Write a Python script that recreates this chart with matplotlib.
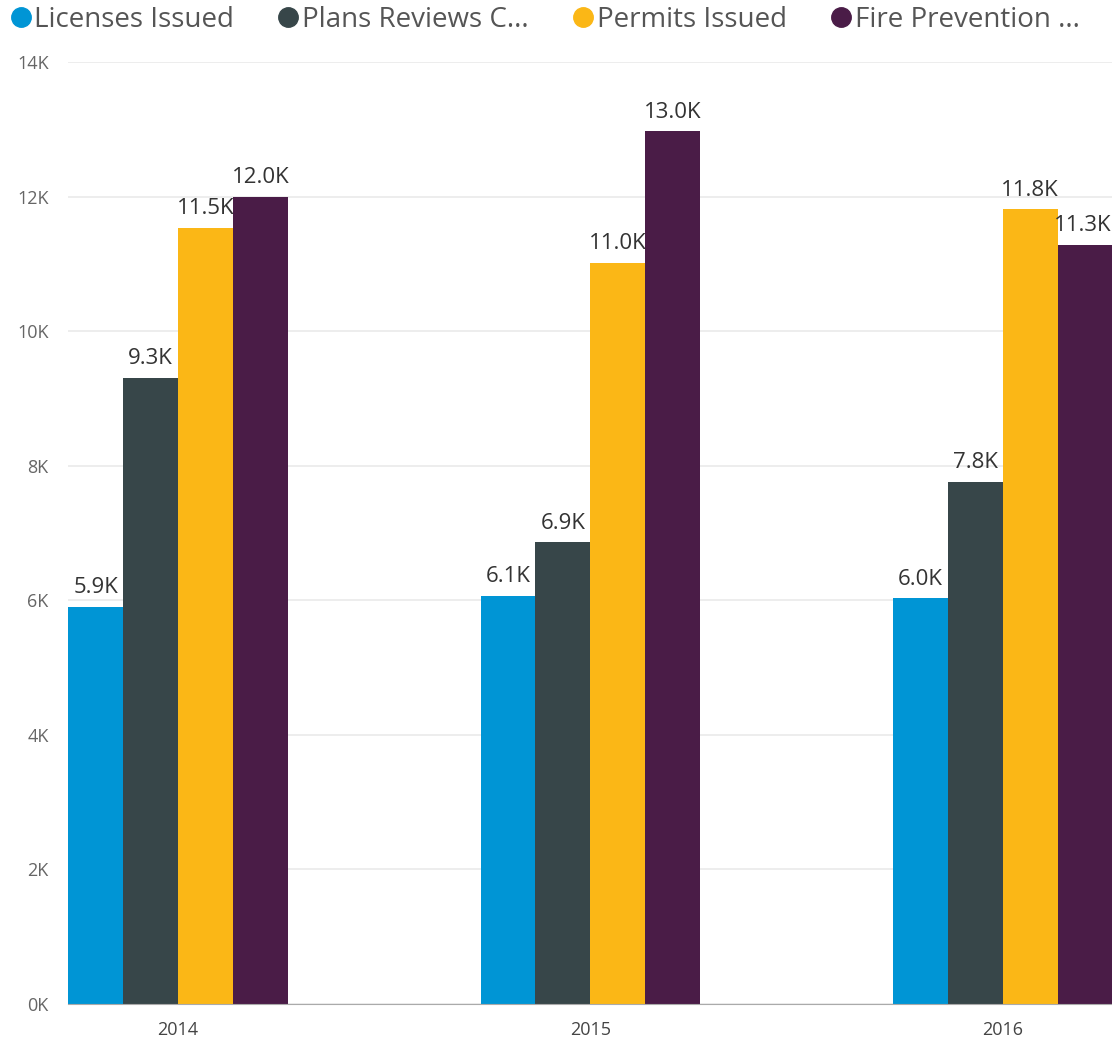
import matplotlib.pyplot as plt
import numpy as np
from matplotlib.lines import Line2D
from matplotlib.ticker import FuncFormatter

plt.rcParams['font.family'] = ['Open Sans', 'DejaVu Sans']

years = ['2014', '2015', '2016']
series = ['Licenses Issued', 'Plans Reviews C...', 'Permits Issued', 'Fire Prevention ...']
licenses = [5900, 6060, 6030]
plans = [9300, 6860, 7760]
permits = [11530, 11010, 11810]
fire = [12000, 12970, 11280]
colors = ['#0095D5', '#374649', '#FBB716', '#4A1C47']

values = [licenses, plans, permits, fire]

fig = plt.figure(figsize=(11.12, 10.49), dpi=100)
ax = fig.add_axes([0.0612, 0.0429, 0.9388, 0.898])

x = np.arange(len(years))
w = 0.1333
xmax = 2.265
for i, (vals, c) in enumerate(zip(values, colors)):
    pos = x + (i - 1.5) * w
    ax.bar(pos, vals, width=w, color=c, zorder=2)
    for p, v in zip(pos, vals):
        txt = f'{v / 1000:.1f}K'
        if p + 0.075 > xmax:
            ax.text(xmax, v + 130, txt, ha='right', va='bottom', fontsize=16, color='#333333', zorder=3)
        else:
            ax.text(p, v + 130, txt, ha='center', va='bottom', fontsize=16, color='#333333', zorder=3)

ax.set_xlim(-0.267, xmax)
ax.set_ylim(0, 14000)
ax.set_yticks(np.arange(0, 14001, 2000))
ax.yaxis.set_major_formatter(FuncFormatter(lambda v, _: f'{int(v / 1000)}K'))
ax.set_xticks(x)
ax.set_xticklabels(years)
ax.tick_params(axis='both', length=0, labelsize=13, colors='#666666')
ax.tick_params(axis='x', pad=12, labelcolor='#444444')
ax.tick_params(axis='y', pad=14)
ax.grid(axis='y', color='#EAEAEA', linewidth=1.2, zorder=0)
for s in ['top', 'right', 'left']:
    ax.spines[s].set_visible(False)
ax.spines['bottom'].set_color('#AAAAAA')

handles = [Line2D([0], [0], marker='o', linestyle='', markersize=14, color=c) for c in colors]
leg = fig.legend(handles, series, loc='center left', bbox_to_anchor=(0.006, 0.981), ncol=4,
                 frameon=False, fontsize=20, handletextpad=0.0, columnspacing=1.45, handlelength=1.0,
                 borderaxespad=0, borderpad=0)
for t in leg.get_texts():
    t.set_color('#555555')

fig.savefig('out.png', dpi=100)
